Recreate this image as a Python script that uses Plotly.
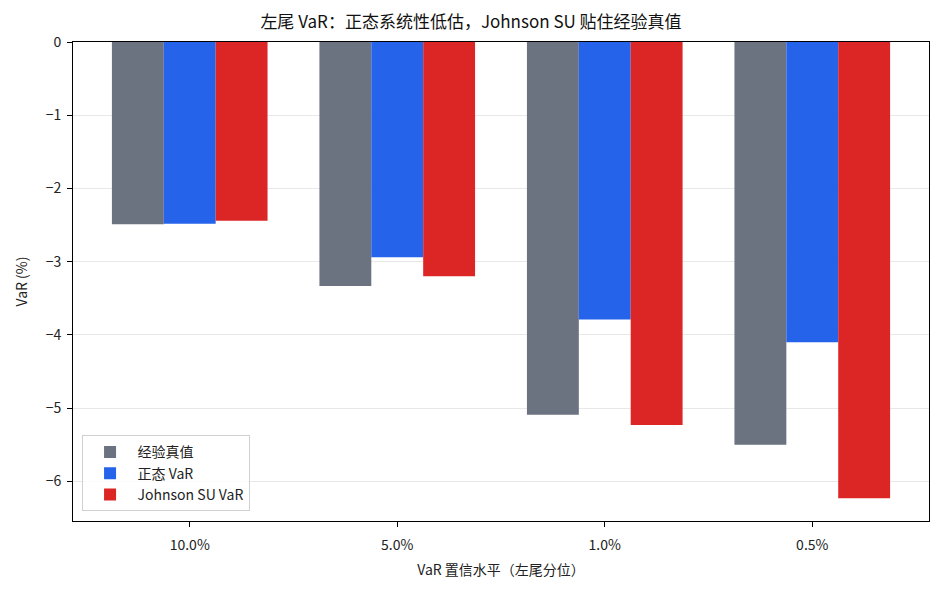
import plotly.graph_objects as go

categories = ["10.0%", "5.0%", "1.0%", "0.5%"]
empirical = [-2.49, -3.33, -5.09, -5.50]
normal_var = [-2.48, -2.94, -3.79, -4.10]
johnson_var = [-2.44, -3.20, -5.23, -6.23]
series_names = ["经验真值", "正态 VaR", "Johnson SU VaR"]
colors = ["#6b7280", "#2563eb", "#dc2626"]
y_ticks = [0, -1, -2, -3, -4, -5, -6]
y_ticktext = ["0", "−1", "−2", "−3", "−4", "−5", "−6"]

FONT = "Noto Sans CJK SC"
fig = go.Figure()
for name, vals, c in zip(series_names, [empirical, normal_var, johnson_var], colors):
    fig.add_trace(go.Bar(x=categories, y=vals, name=name, marker=dict(color=c, line=dict(width=0))))

fig.update_layout(
    width=942, height=591,
    barmode="group", bargap=0.25, bargroupgap=0,
    plot_bgcolor="white", paper_bgcolor="white",
    font=dict(family=FONT, size=14, color="#222"),
    margin=dict(l=73, r=13, t=42, b=70),
    title=dict(text="左尾 VaR：正态系统性低估，Johnson SU 贴住经验真值", x=0.5, xanchor="center",
               y=1 - 22/591, yanchor="middle", font=dict(size=17, family=FONT, color="#111")),
    legend=dict(x=0.01, y=0.02, xanchor="left", yanchor="bottom", bgcolor="rgba(255,255,255,0.8)",
                bordercolor="#d0d0d0", borderwidth=1, font=dict(size=14, family=FONT),
                traceorder="normal", tracegroupgap=2, itemwidth=45),
    xaxis=dict(range=[-0.5625, 3.5625], showline=True, linecolor="black", linewidth=1, mirror=True,
               ticks="outside", ticklen=5, tickcolor="black", showgrid=False, ticklabelstandoff=6,
               title=dict(text="VaR 置信水平（左尾分位）", font=dict(size=14), standoff=12),
               tickfont=dict(size=14)),
    yaxis=dict(range=[-6.54, 0], showline=True, linecolor="black", linewidth=1, mirror=True,
               ticks="outside", ticklen=5, tickcolor="black", tickvals=y_ticks, ticktext=y_ticktext,
               showgrid=True, gridcolor="#e8e8e8", zeroline=False, ticklabelstandoff=3,
               title=dict(text="VaR (%)", font=dict(size=14), standoff=14),
               tickfont=dict(size=14)),
)
fig.write_html("out.html")
